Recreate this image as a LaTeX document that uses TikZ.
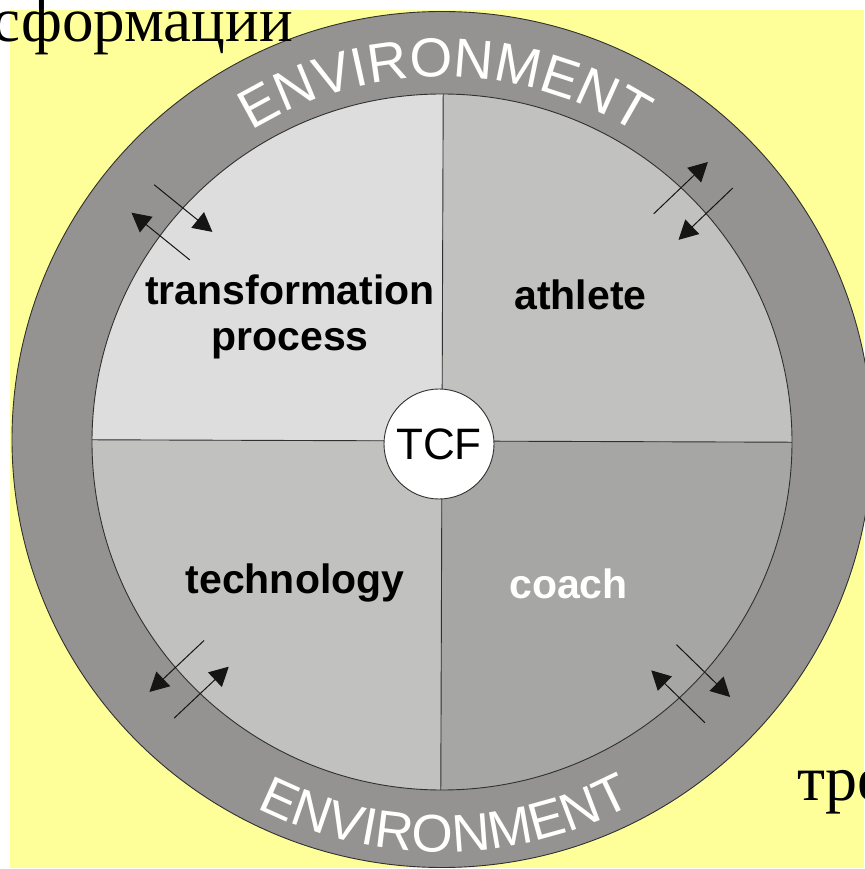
\documentclass[tikz,border=0pt]{standalone}
\usepackage{fontspec}
\setmainfont{Liberation Sans}
\newfontfamily\rusfont{Liberation Serif}
\usepackage{tikz}
\usetikzlibrary{arrows.meta, positioning, decorations.text}
\definecolor{bgYellow}{HTML}{FFFF99}
\definecolor{ringGray}{HTML}{949391}
\definecolor{quadLight}{HTML}{DDDDDD}
\definecolor{quadMid}{HTML}{C1C1C0}
\definecolor{quadDark}{HTML}{A6A6A5}
\definecolor{lineDark}{HTML}{303030}
\definecolor{arrowBlack}{HTML}{151515}
\newcommand{\envtop}{\fontsize{55}{55}\selectfont\color{white}}
\newcommand{\envbot}{\fontsize{53}{53}\selectfont\color{white}}
\tikzset{
	partlabel/.style={font=\fontsize{41}{46}\selectfont\bfseries, align=center, inner sep=0pt},
	hub/.style={circle, draw=lineDark, line width=0.9pt, fill=white, minimum size=110pt, inner sep=0pt, font=\fontsize{44}{44}\selectfont},
	flow/.style={line width=1pt, draw=arrowBlack, -{Triangle[length=19pt, width=20pt]}},
	border/.style={draw=lineDark, line width=0.9pt}
}

\begin{document}
\begin{tikzpicture}[x=1pt, y=1pt]
		\useasboundingbox (-442,-428) rectangle (422,441);
		\fill[white] (-442,-428) rectangle (422,441);
		% Fondo amarillo
		\fill[bgYellow] (-432,-427) rectangle (422,431);
		
		% Anillo del entorno
		\filldraw[fill=ringGray, border] (0,1.5) ellipse [x radius=430, y radius=428];
		
		% Cuadrantes interiores
		\begin{scope}
			\clip (0,-1) ellipse [x radius=350, y radius=348];
			\begin{scope}[rotate=-0.2]
				\fill[quadLight] (0,0) rectangle (-400,400);
				\fill[quadMid] (0,0) rectangle (400,400);
				\fill[quadMid] (0,0) rectangle (-400,-400);
				\fill[quadDark] (0,0) rectangle (400,-400);
				\draw[border] (0,400) -- (0,-400);
				\draw[border] (-400,0) -- (400,0);
			\end{scope}
		\end{scope}
		\draw[border] (0,-1) ellipse [x radius=350, y radius=348];
		
		% Centro y etiquetas
		\node (tcf) [hub] at (-3,-3) {TCF};
		\node (trans) [partlabel] at (-152,124) {transformation\\process};
		\node (athlete) [partlabel, anchor=base] at (138.5,131) {athlete};
		\node (tech) [partlabel, anchor=base] at (-147,-152) {technology};
		\node (coach) [partlabel, anchor=base, text=white] at (126.5,-157) {coach};
		
		% Flechas de intercambio con el entorno
		\foreach \ang/\sd in {141/1, 43.7/1, 223.3/-1, 315.7/1}{
			\begin{scope}[rotate=\ang]
				\draw[flow] (310,18*\sd) -- (385,18*\sd);
				\draw[flow] (385,-18*\sd) -- (310,-18*\sd);
			\end{scope}
		}
		
		% Textos curvos del anillo
		\path[decorate, decoration={text along path, text align=center, text={|\envtop|ENVIRONMENT}}]
			(149.5:364) arc[start angle=149.5, end angle=29.5, radius=364];
		\path[decorate, decoration={text along path, text align=center, text={|\envbot|ENVIRONMENT}}]
			(210.5:411) arc[start angle=210.5, end angle=330.5, radius=411];
		
		% Texto de la diapositiva
		\node (rustop) [anchor=base east, inner sep=0pt, font=\rusfont\fontsize{63}{63}\selectfont] at (-149,399) {сформации};
		\node (rusbot) [anchor=base west, inner sep=0pt, font=\rusfont\fontsize{64}{64}\selectfont] at (355,-359) {тре};
	\end{tikzpicture}
\end{document}
